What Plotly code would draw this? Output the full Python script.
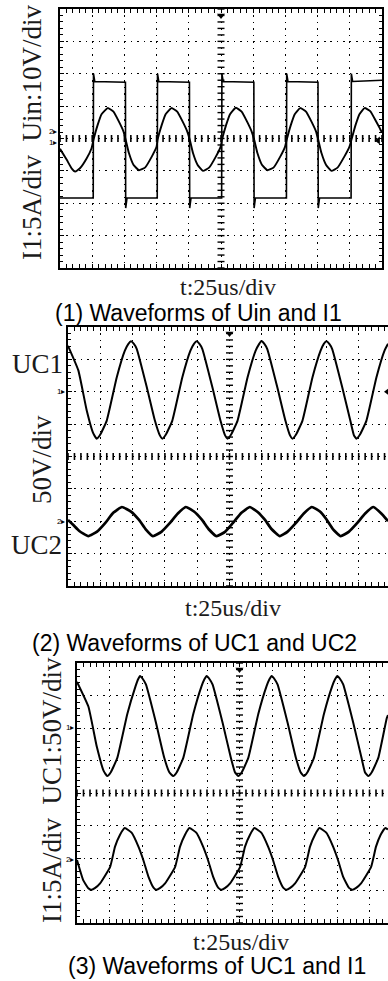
import numpy as np
import plotly.graph_objects as go

W, H = 388, 981

# ---------------- DATA (time in us, values in physical units) ----------------
# Panel 1: Uin (10 V/div) and I1 (5 A/div), both referenced to screen centre
p1_uin_t = [0, 25.8, 26.0, 27.0, 50.8, 51.0, 52.0, 75.5, 75.7, 76.7, 100.5, 100.7, 101.7,
            125.5, 125.7, 126.7, 150.5, 150.7, 151.7, 175.8, 176.0, 177.0, 200.3, 200.5,
            201.5, 226.0, 226.2, 227.2, 250.0]
p1_uin_v = [-18.4, -18.4, 20.0, 17.6, 17.4, -21.5, -18.4, -18.4, 20.0, 17.6, 17.4, -21.5, -18.4,
            -18.4, 20.0, 17.6, 17.4, -21.5, -18.4, -18.4, 20.0, 17.6, 17.4, -21.5,
            -18.4, -18.4, 20.0, 17.6, 18.0]

p1_i1_t = [0, 5.25, 9.0, 11.75, 15.5, 20.75, 24.5, 26.0,
           29.25, 32.25, 37.0, 41.5, 45.75, 49.25, 51.0, 53.5, 57.0, 61.25, 66.0, 71.25, 75.0, 75.75,
           79.0, 82.0, 86.5, 91.0, 95.25, 98.75, 100.75, 103.25, 106.75, 111.0, 115.75, 121.0, 124.75, 125.75,
           129.0, 132.0, 136.5, 141.0, 145.25, 148.75, 150.75, 153.25, 156.75, 161.0, 165.75, 171.0, 174.75, 176.0,
           179.25, 182.25, 186.5, 191.0, 195.25, 198.75, 200.5, 203.0, 206.5, 210.75, 215.5, 220.75, 224.75, 226.25,
           229.5, 232.5, 236.5, 241.0, 245.25, 248.0, 250.0]
p1_i1_v = [-1.6, -3.3, -4.6, -5.1, -4.6, -3.05, -1.5, -0.2,
           2.1, 3.75, 4.7, 4.15, 2.6, 1.1, -0.2, -2.25, -4.05, -4.9, -4.5, -2.8, -1.25, -0.2,
           2.1, 3.75, 4.7, 4.15, 2.6, 1.1, -0.2, -2.25, -4.05, -5.0, -4.5, -2.8, -1.25, -0.2,
           2.1, 3.75, 4.75, 4.15, 2.6, 1.1, -0.2, -2.25, -4.05, -4.9, -4.5, -2.8, -1.25, -0.2,
           2.1, 3.75, 4.7, 4.15, 2.6, 1.1, -0.2, -2.25, -4.05, -5.0, -4.5, -2.8, -1.25, -0.2,
           2.1, 3.75, 4.7, 4.2, 2.7, 1.7, 0.9]

# Panel 2: UC1 (50 V/div, ground +2 div) and UC2 (50 V/div, ground -2 div)
p2_uc1_t = [0, 8.0, 14.5, 19.5, 22.25, 25.0, 30.0, 37.75, 44.0, 46.75, 48.75, 51.0, 53.25, 61.0, 67.25, 71.0,
            73.0, 75.75, 80.75, 88.5, 94.75, 97.5, 99.5, 101.75, 104.0, 111.75, 118.0, 121.5,
            123.5, 126.25, 131.25, 139.0, 145.25, 148.0, 149.75, 152.0, 154.25, 162.0, 168.25, 171.75,
            173.75, 176.5, 181.5, 189.25, 195.5, 198.0, 200.0, 202.25, 204.5, 212.25, 218.5, 221.25,
            223.25, 226.0, 231.0, 238.75, 245.0, 247.7]
p2_uc1_v = [71, 33, -29, -64, -72.5, -66, -44.5, 22.5, 63.5, 74, 78, 74, 66, 7, -44.5, -67,
            -72.5, -66, -44.5, 22.5, 63.5, 74, 78, 74, 66, 7, -44.5, -67,
            -72.5, -66, -44.5, 22.5, 63.5, 74, 78.5, 74, 66, 7, -44.5, -67,
            -72.5, -66, -44.5, 22.5, 63.5, 74, 78, 74, 66, 7, -44.5, -67,
            -72.5, -66, -44.5, 22.5, 63.5, 74]

p2_uc2_t = [0, 3.75, 8.75, 15.75, 22.5, 28.75, 35.0, 41.75, 48.75, 55.0, 60.0, 65.75, 72.5, 78.75, 85.0,
            91.25, 97.5, 103.75, 108.75, 115.0, 121.75, 127.5, 134.25, 140.75, 147.0, 152.5, 157.5,
            164.0, 170.0, 176.25, 182.5, 188.75, 195.0, 200.0, 205.0, 211.0, 217.5, 223.75, 230.0,
            236.25, 242.5, 247.7]
p2_uc2_v = [2, -5, -15, -23, -16, -3, 13, 22, 15, 2, -12, -23, -16, -3, 12,
            22, 15, 2, -12, -23, -16, -3, 13, 22, 14, 2, -12,
            -23, -16, -3, 12, 22, 15, 3, -12, -23, -16, -3, 12,
            22, 12, 0]

# Panel 3: UC1 (50 V/div, ground +2 div) and I1 (5 A/div, ground -2 div)
p3_uc1_t = [0, 8.75, 15.25, 20.5, 23.25, 26.0, 31.0, 38.75, 45.0, 47.0, 48.5, 50.75, 53.0, 60.75, 67.0, 71.0,
            74.0, 76.75, 81.75, 89.5, 95.75, 98.0, 99.75, 102.0, 104.25, 112.0, 118.25, 121.5,
            124.0, 126.75, 131.75, 139.5, 145.75, 148.0, 149.75, 152.0, 154.25, 162.0, 168.25, 172.0,
            174.5, 177.25, 182.25, 190.0, 196.25, 198.5, 200.25, 202.5, 204.75, 212.5, 218.75, 221.5,
            224.0, 226.75, 231.75, 238.25, 239.2]
p3_uc1_v = [71, 33, -29, -66, -74, -68, -46, 22, 64, 75, 80, 75, 67, 8, -45, -68,
            -74, -68, -46, 22, 64, 75, 80, 75, 67, 8, -45, -68,
            -74, -68, -46, 22, 64, 75, 80, 75, 67, 8, -45, -68,
            -74, -68, -46, 22, 64, 75, 80, 75, 67, 8, -45, -68,
            -74, -68, -46, 15, 20]

p3_i1_t = [0, 4.75, 8.5, 11.25, 14.0, 17.75, 25.5, 29.25, 33.0, 36.75, 42.0, 47.25, 51.0, 55.0, 59.0,
           61.25, 64.0, 67.75, 75.5, 79.25, 83.0, 86.5, 91.75, 97.0, 100.75, 104.75, 108.75,
           111.25, 114.0, 117.75, 125.5, 129.25, 133.0, 136.5, 141.75, 147.0, 150.75, 154.75, 158.75,
           161.25, 164.0, 167.75, 175.5, 179.25, 183.0, 186.5, 191.75, 197.0, 200.75, 204.75, 209.25,
           212.0, 214.75, 218.5, 226.25, 230.0, 233.5, 237.0, 239.2]
p3_i1_v = [-0.3, -3.4, -4.6, -4.9, -4.6, -3.9, -1.35, 1.75, 3.55, 4.6, 3.9, 1.75, -0.3, -2.9, -4.6,
           -4.9, -4.6, -3.9, -1.35, 1.75, 3.55, 4.6, 3.9, 1.75, -0.3, -2.9, -4.6,
           -4.9, -4.6, -3.9, -1.35, 1.75, 3.55, 4.6, 3.9, 1.75, -0.3, -2.9, -4.6,
           -4.9, -4.6, -3.9, -1.35, 1.75, 3.55, 4.6, 3.9, 1.75, -0.3, -2.9, -4.6,
           -4.9, -4.6, -3.9, -1.35, 1.75, 3.55, 4.6, 4.4]

# Channel scales (units per division) and ground offsets (divisions)
ch_scale = {"p1_uin": 10, "p1_i1": 5, "p2_uc1": 50, "p2_uc2": 50, "p3_uc1": 50, "p3_i1": 5}
ch_ground = {"p1_uin": 0, "p1_i1": 0, "p2_uc1": 2, "p2_uc2": -2, "p3_uc1": 2, "p3_i1": -2}

x_label = "t:25us/div"
captions = ["(1) Waveforms of Uin and I1", "(2) Waveforms of UC1 and UC2", "(3) Waveforms of UC1 and I1"]

# ---------------- LAYOUT ----------------
def px_x(p):
    return p / W

def px_y(p):
    return 1 - p / H

# panel pixel boxes: left, right, top, bottom ; x range (us)
panels = [
    dict(l=60, r=382, t=9, b=268, xr=250.0, right_border=True),
    dict(l=68, r=388, t=327, b=586, xr=(388 - 68) / 32.3 * 25, right_border=False),
    dict(l=77, r=388, t=663, b=923, xr=(388 - 77) / 32.5 * 25, right_border=False),
]

fig = go.Figure()
layout = dict(width=W, height=H, margin=dict(l=0, r=0, t=0, b=0),
              paper_bgcolor="white", plot_bgcolor="white", showlegend=False)

SERIF = "Liberation Serif, Times New Roman, serif"
SANS = "Liberation Sans, Arial, sans-serif"

for i, p in enumerate(panels):
    n = i + 1
    xa = "xaxis" if n == 1 else f"xaxis{n}"
    xid = "x" if n == 1 else f"x{n}"
    base_yn = 3 * i + 1
    ya = "yaxis" if base_yn == 1 else f"yaxis{base_yn}"
    yid = "y" if base_yn == 1 else f"y{base_yn}"
    xdiv_px = (p["r"] - p["l"]) / (p["xr"] / 25)
    ydiv_px = (p["b"] - p["t"]) / 8
    layout[xa] = dict(domain=[px_x(p["l"]), px_x(p["r"])], range=[0, p["xr"]], anchor=yid,
                      showline=True, linecolor="black", linewidth=2,
                      mirror="allticks", ticks="inside", ticklen=4, tickwidth=1, tickcolor="black",
                      tick0=0, dtick=25, showticklabels=False, zeroline=False,
                      showgrid=True, gridcolor="black", gridwidth=1,
                      griddash=f"1.5px,{0.2*ydiv_px-1.5:.2f}px",
                      minor=dict(ticks="inside", ticklen=3, tickcolor="black", dtick=5, showgrid=False),
                      fixedrange=True)
    layout[ya] = dict(domain=[px_y(p["b"]), px_y(p["t"])], range=[-4, 4], anchor=xid,
                      showline=True, linecolor="black", linewidth=2,
                      mirror="allticks" if p["right_border"] else False,
                      ticks="inside", ticklen=4, tickwidth=1, tickcolor="black",
                      tick0=0, dtick=1, showticklabels=False, zeroline=False,
                      showgrid=True, gridcolor="black", gridwidth=1,
                      griddash=f"1.5px,{0.2*xdiv_px-1.5:.2f}px",
                      minor=dict(ticks="inside", ticklen=3, tickcolor="black", dtick=0.2, showgrid=False),
                      fixedrange=True)
    # centre cross-hair tick marks
    xx = np.arange(0, p["xr"] + 0.01, 5)
    fig.add_trace(go.Scatter(x=xx, y=np.zeros(len(xx)),
                             mode="markers", xaxis=xid, yaxis=yid, hoverinfo="skip",
                             marker=dict(symbol="line-ns", size=5, line=dict(width=1.6, color="black"))))
    yy = np.arange(-4, 4.01, 0.2)
    fig.add_trace(go.Scatter(x=np.full(len(yy), 125.0), y=yy, mode="markers", xaxis=xid, yaxis=yid,
                             hoverinfo="skip",
                             marker=dict(symbol="line-ew", size=5, line=dict(width=1.4, color="black"))))
    # trigger position marker (top centre)
    fig.add_trace(go.Scatter(x=[125], y=[3.8], mode="markers", xaxis=xid, yaxis=yid, hoverinfo="skip",
                             marker=dict(symbol="triangle-down", size=7, color="black")))

# channel axes
def chan_axis(num, base_yn, xid, key):
    s = ch_scale[key]
    g = ch_ground[key]
    rng = [(-4 - g) * s, (4 - g) * s]
    base = "y" if base_yn == 1 else f"y{base_yn}"
    layout[f"yaxis{num}"] = dict(overlaying=base, anchor=xid, range=rng, visible=False, fixedrange=True)
    return f"y{num}"

series = [
    (1, "x", "p1_uin", p1_uin_t, p1_uin_v, "linear", 1.6),
    (1, "x", "p1_i1", p1_i1_t, p1_i1_v, "spline", 1.9),
    (4, "x2", "p2_uc1", p2_uc1_t, p2_uc1_v, "spline", 2.0),
    (4, "x2", "p2_uc2", p2_uc2_t, p2_uc2_v, "spline", 2.7),
    (7, "x3", "p3_uc1", p3_uc1_t, p3_uc1_v, "spline", 2.0),
    (7, "x3", "p3_i1", p3_i1_t, p3_i1_v, "spline", 2.0),
]
for k, (base_yn, xid, key, t, v, shape, w) in enumerate(series):
    num = base_yn + 1 + (k % 2)
    yid = chan_axis(num, base_yn, xid, key)
    fig.add_trace(go.Scatter(x=t, y=v, mode="lines", xaxis=xid, yaxis=yid, hoverinfo="skip",
                             line=dict(color="black", width=w, shape=shape,
                                       smoothing=0.4 if shape == "spline" else None)))

# trigger level markers on right edge
fig.add_trace(go.Scatter(x=[247], y=[-0.06], mode="markers", xaxis="x", yaxis="y", hoverinfo="skip",
                         marker=dict(symbol="triangle-left", size=7, color="black")))
fig.add_trace(go.Scatter(x=[247.3], y=[2.0], mode="markers", xaxis="x2", yaxis="y4", hoverinfo="skip",
                         cliponaxis=False,
                         marker=dict(symbol="triangle-left", size=7, color="black")))

fig.update_layout(**layout)

ann = []
def text(x, y, s, size, font=SERIF, angle=0, color="#1a1a1a", xanchor="center"):
    ann.append(dict(x=px_x(x), y=px_y(y), xref="paper", yref="paper", text=s, showarrow=False,
                    xanchor=xanchor, yanchor="middle", textangle=angle,
                    font=dict(family=font, size=size, color=color)))

# Panel 1 labels
text(32, 133, "I1:5A/div  Uin:10V/div", 27, angle=-90)
text(228, 287, x_label, 24)
text(198, 313, captions[0], 23, font=SANS, color="black")
# Panel 2 labels
text(37, 364, "UC1", 27)
text(42, 460, "50V/div", 27, angle=-90)
text(36, 545, "UC2", 27)
text(233, 608, x_label, 24)
text(194, 643, captions[1], 23, font=SANS, color="black")
# Panel 3 labels
text(52, 790, "I1:5A/div  UC1:50V/div", 27, angle=-90)
text(241, 942, x_label, 24)
text(217, 966, captions[2], 23, font=SANS, color="black")
# channel ground markers
for (x, y, s) in [(60, 131, "2▸"), (60, 142, "1▸"), (68, 391, "1▸"), (68, 521, "2▸"),
                  (77, 727, "1▸"), (77, 859, "2▸")]:
    text(x - 1, y, s, 8, font=SANS, color="black", xanchor="right")

fig.update_layout(annotations=ann)
fig.write_html("out.html", config={"displayModeBar": False, "staticPlot": True},
               post_script="document.body.style.margin='0';document.body.style.overflow='hidden';")
